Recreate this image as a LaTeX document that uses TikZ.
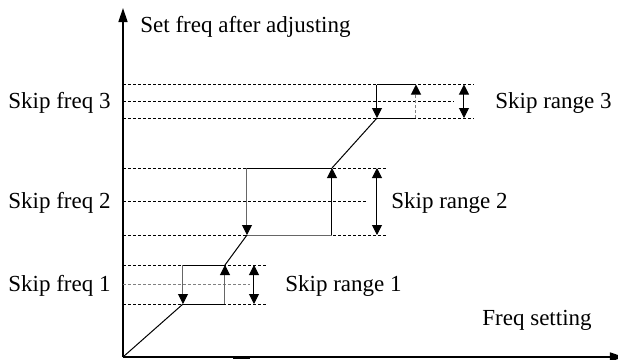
\documentclass[tikz,border=0pt]{standalone}
\usepackage{fontspec}
\setmainfont{Liberation Serif}
\usetikzlibrary{arrows.meta}
\begin{document}
\begin{tikzpicture}[x=0.5pt,y=-0.5pt,
  lbl/.style={font=\fontsize{11.5}{13}\selectfont, inner sep=0pt, anchor=base west},
  dsh/.style={line width=0.4pt, dash pattern=on 1.5pt off 1pt},
  gdsh/.style={dsh, draw=gray},
  sol/.style={line width=0.5pt},
  gsol/.style={line width=0.5pt, draw=gray!80!black},
  tip/.style={-{Triangle[length=5pt,width=5pt,color=black]}},
  dtip/.style={{Triangle[length=5pt,width=5pt,color=black]}-{Triangle[length=5pt,width=5pt,color=black]}},
  axis/.style={line width=0.7pt, -{Triangle[length=7pt,width=4.5pt]}}]
\useasboundingbox (0,0) rectangle (618,360);
% axes
\coordinate (O) at (123,357);
\coordinate (Ytop) at (123,8);
\coordinate (Xend) at (624,357);
\draw[axis] (O) -- (Ytop);
\draw[axis] (O) -- (Xend);
\coordinate (m1) at (233,357);
\coordinate (m2) at (250,357);
\draw[line width=1.5pt] (m1) -- (m2);
% box 1
\coordinate (a1t) at (183,265); \coordinate (b1t) at (225,265);
\coordinate (a1b) at (183,304); \coordinate (b1b) at (225,304);
\coordinate (L1t) at (123,265); \coordinate (E1t) at (267,265);
\coordinate (L1m) at (123,284.5); \coordinate (E1m) at (250,284.5);
\coordinate (L1b) at (123,304); \coordinate (E1b) at (267,304);
\coordinate (r1t) at (254,265); \coordinate (r1b) at (254,304);
\draw[dsh] (L1t) -- (E1t);
\draw[gdsh] (L1m) -- (E1m);
\draw[dsh] (L1b) -- (E1b);
\draw[sol] (a1t) -- (b1t);
\draw[sol] (a1b) -- (b1b);
\draw[gsol,tip] (a1t) -- (a1b);
\draw[gsol,tip] (b1b) -- (b1t);
\draw[sol,dtip] (r1t) -- (r1b);
% box 2
\coordinate (a2t) at (247,168); \coordinate (b2t) at (332,168);
\coordinate (a2b) at (247,235); \coordinate (b2b) at (332,235);
\coordinate (L2t) at (123,168); \coordinate (E2t) at (387,168);
\coordinate (L2m) at (123,201.5); \coordinate (E2m) at (367,201.5);
\coordinate (L2b) at (123,235); \coordinate (E2b) at (387,235);
\coordinate (r2t) at (377,168); \coordinate (r2b) at (377,235);
\draw[dsh] (L2t) -- (E2t);
\draw[dsh] (L2m) -- (E2m);
\draw[dsh] (L2b) -- (E2b);
\draw[sol] (a2t) -- (b2t);
\draw[gsol] (a2b) -- (b2b);
\draw[gsol,tip] (a2t) -- (a2b);
\draw[sol,tip] (b2b) -- (b2t);
\draw[sol,dtip] (r2t) -- (r2b);
% box 3
\coordinate (a3t) at (377,84.5); \coordinate (b3t) at (416,84.5);
\coordinate (a3b) at (377,118); \coordinate (b3b) at (416,118);
\coordinate (L3t) at (123,84.5); \coordinate (E3t) at (474,84.5);
\coordinate (L3m) at (123,101.5); \coordinate (E3m) at (454,101.5);
\coordinate (L3b) at (123,118); \coordinate (E3b) at (474,118);
\coordinate (r3t) at (464,84.5); \coordinate (r3b) at (464,118);
\draw[dsh] (L3t) -- (E3t);
\draw[dsh] (L3m) -- (E3m);
\draw[dsh] (L3b) -- (E3b);
\draw[sol] (a3t) -- (b3t);
\draw[sol] (a3b) -- (b3b);
\draw[sol,tip] (a3t) -- (a3b);
\draw[gdsh,line width=0.5pt,tip] (b3b) -- (b3t);
\draw[sol,dtip] (r3t) -- (r3b);
% characteristic
\draw[sol] (O) -- (a1b);
\draw[sol] (b1t) -- (a2b);
\draw[sol] (b2t) -- (a3b);
% labels
\node[lbl] (ylab) at (140,32) {Set freq after adjusting};
\node[lbl] (xlab) at (482,325) {Freq setting};
\node[lbl] (f3) at (8,108.5) {Skip freq 3};
\node[lbl] (f2) at (8,208.5) {Skip freq 2};
\node[lbl] (f1) at (8,291.5) {Skip freq 1};
\node[lbl] (s3) at (495,108.5) {Skip range 3};
\node[lbl] (s2) at (391,208.5) {Skip range 2};
\node[lbl] (s1) at (285,291.5) {Skip range 1};
\end{tikzpicture}
\end{document}
